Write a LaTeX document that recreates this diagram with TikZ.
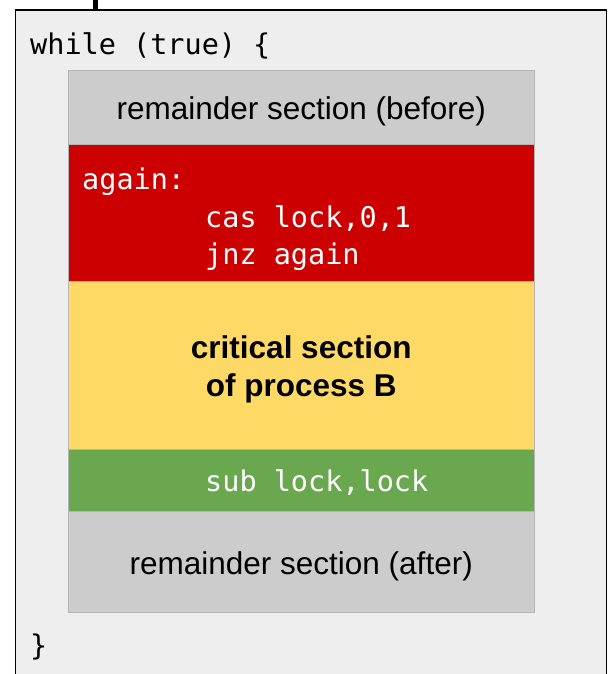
\documentclass[tikz,border=0pt]{standalone}
\usepackage{fontspec}
\setmainfont{Liberation Sans}
\setmonofont{DejaVu Sans Mono}
\definecolor{pagebg}{HTML}{EEEEEE}
\definecolor{remgray}{HTML}{CCCCCC}
\definecolor{edgegray}{HTML}{B4B4B4}
\definecolor{lockred}{HTML}{CC0000}
\definecolor{crityellow}{HTML}{FFD966}
\definecolor{unlockgreen}{HTML}{6AA84F}
\tikzset{
  block/.style={draw=edgegray, line width=1pt, minimum width=466.5pt, inner sep=0pt, anchor=north west},
  code/.style={font=\fontsize{28.5}{34}\selectfont\ttfamily, inner sep=0pt, anchor=base west},
  label/.style={font=\fontsize{31.5}{38}\selectfont, align=center, inner sep=0pt, yshift=-4pt},
}
\begin{document}
\begin{tikzpicture}[x=1pt,y=-1pt]
  \useasboundingbox (0,0) rectangle (610,674);
  \clip (0,0) rectangle (610,674);
  % loop frame, open at the bottom
  \draw[black, line width=5pt] (95,-2) -- (95,10);
  \node[draw=black, fill=pagebg, line width=1.6pt, minimum width=591pt, minimum height=700pt, inner sep=0pt, anchor=north west] (frame) at (14.7,9.5) {};
  \node[code] (head) at (30,55) {while (true) \{};
  \node[code] (tail) at (30,655) {\}};
  % stacked sections of the loop body
  \node[block, fill=remgray, minimum height=74pt] (before) at (67.5,70) {};
  \node[label] at (before.center) {remainder section (before)};
  \node[block, fill=lockred, minimum height=137pt] (acquire) at (67.5,144) {};
  \node[code, text=white] (again) at (82,189) {again:};
  \node[code, text=white] (cas) at (205,227) {cas lock,0,1};
  \node[code, text=white] (jnz) at (205,264) {jnz again};
  \node[block, fill=crityellow, minimum height=168pt] (critical) at (67.5,281) {};
  \node[label, font=\fontsize{31.5}{38}\selectfont\bfseries] at (critical.center) {critical section\\of process B};
  \node[block, fill=unlockgreen, minimum height=62pt] (release) at (67.5,449) {};
  \node[code, text=white] (sub) at (205,491.5) {sub lock,lock};
  \node[block, fill=remgray, minimum height=101pt] (after) at (67.5,511) {};
  \node[label] at (after.center) {remainder section (after)};
\end{tikzpicture}
\end{document}
